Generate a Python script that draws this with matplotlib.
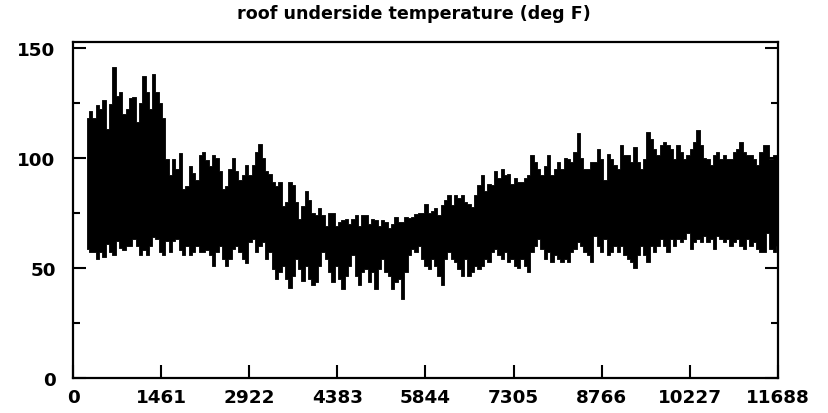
import numpy as np
import matplotlib
matplotlib.use("Agg")
import matplotlib.pyplot as plt
from matplotlib.ticker import MultipleLocator, FixedLocator

# ---- data: upper / lower envelope of the hourly roof-underside temperature ----
high_seg1 = [118, 121, 118, 124, 122, 126, 113, 124.5, 141, 128, 130, 120, 122, 127, 127.5, 116, 125,
             137, 130, 122, 138, 130, 125, 118, 99.5, 92, 99.5, 95, 102, 86, 87, 96, 93, 90]
low_seg1 = [58.6, 57, 57, 54, 57, 55, 61, 57, 56, 62, 59, 58, 60, 60, 63, 60, 56, 58, 56, 60, 64, 63,
            57, 56, 62, 57, 62, 63, 58, 56, 60, 56, 57, 60]
high_seg2 = [101, 102.5, 99, 96, 101, 100, 94, 86, 87, 95, 100, 94, 90, 92, 96.5, 92, 96.5, 102.5, 106,
             100, 94, 92.5, 89, 87, 89, 78, 80, 89, 87.6, 80, 72, 78, 85, 81, 75]
low_seg2 = [57, 57, 58, 56, 51, 57, 60, 54, 51, 54, 58.6, 60, 57, 54, 52, 61.5, 63, 57, 60, 61.5, 54, 57,
            49.5, 45, 48, 51, 45, 41, 46.5, 54, 49.5, 44, 51, 45, 42]
high_seg3 = [74, 77, 74, 69, 75, 75, 69, 71, 71.5, 72, 70, 72, 74, 69, 74, 74, 70, 72, 71.5, 69, 71.5, 71,
             68, 70, 73, 71, 71, 73, 72.5, 73, 74.5, 75, 75, 79, 75]
low_seg3 = [43.5, 51, 57, 54, 48, 43.5, 51, 45, 40.5, 46.5, 51, 55.6, 46.5, 42, 48, 49.5, 43.5, 48, 40.5,
            49.5, 54, 48, 46.5, 40.5, 43.5, 45, 36, 48, 55.6, 58.6, 57, 60, 54, 51, 49.5]
high_seg4 = [76, 77, 74, 78.5, 81, 83, 78.5, 83, 81.6, 83, 80, 79, 77.5, 83, 87.6, 92, 85, 88, 87.6, 93.9,
             90.9, 95, 92, 92.5, 88, 91, 89, 89, 90.9, 92, 101, 98, 95, 92, 96]
low_seg4 = [54, 51, 46.5, 42, 54, 57, 54, 52.6, 49.5, 46.5, 54, 46.5, 48, 51, 49.5, 51, 54, 52.6, 57, 58.6,
            55.6, 54, 57, 52.6, 54, 51, 50, 54, 51, 48, 57, 60, 63, 58.6, 54]
high_seg5 = [101, 92, 95, 98, 95, 100, 99.5, 98, 102.5, 111, 100, 95, 95, 98, 98, 104, 99.5, 90, 101.7,
             99.5, 96.5, 95, 105.6, 101, 101, 98, 104.8, 98, 95, 99.5, 111.7, 108.6, 104, 101, 105.6]
low_seg5 = [57, 52.6, 55.6, 54, 52.6, 54, 52.6, 57, 58.6, 61.6, 60, 57, 55.6, 52.6, 64.6, 60, 57, 63, 55.6,
            57, 60, 57, 60, 55.6, 54, 52.6, 50, 55.6, 60, 55.6, 52.6, 60, 57, 60, 63]
high_seg6 = [107, 105.6, 104, 99.5, 105.6, 102.5, 99.5, 101, 104, 107, 112.4, 105.6, 100, 99.5, 96.5, 101,
             102.5, 99.5, 101, 99.5, 99.5, 102.5, 104, 107, 102.5, 101, 101, 99.5, 96.5, 102.5, 105.6,
             105.6, 99.5, 101, 101]
low_seg6 = [60, 57, 63, 60, 63, 61.6, 63, 66, 58.6, 61.6, 63, 61.6, 64.6, 61.6, 63, 58.6, 64.6, 63, 61.6,
            63, 60, 61.6, 63, 60, 58.6, 63, 60, 61.6, 58.6, 57, 57, 66, 58.6, 57, 60]

high = high_seg1 + high_seg2 + high_seg3 + high_seg4 + high_seg5 + high_seg6
low = low_seg1 + low_seg2 + low_seg3 + low_seg4 + low_seg5 + low_seg6
first_hour, last_hour = 240, 11680
hours = np.linspace(first_hour, last_hour, len(high))

x_ticks = [0, 1461, 2922, 4383, 5844, 7305, 8766, 10227, 11688]
y_ticks = [0, 50, 100, 150]
title = "roof underside temperature (deg F)"

# ---- figure ----
plt.rcParams['font.family'] = ['DejaVu Sans']
plt.rcParams['font.weight'] = 'bold'

fig = plt.figure(figsize=(8.29, 4.14), dpi=100)
ax = fig.add_axes([73 / 829, 1 - 379 / 414, 705 / 829, 336 / 414])

ax.fill_between(hours, low, high, step='mid', color='black', lw=0.6)

ax.set_xlim(0, 11688)
ax.set_ylim(0, 152.5)
ax.xaxis.set_major_locator(FixedLocator(x_ticks))
ax.set_xticklabels([str(t) for t in x_ticks])
ax.yaxis.set_major_locator(FixedLocator(y_ticks))
ax.yaxis.set_minor_locator(MultipleLocator(25))

for s in ax.spines.values():
    s.set_linewidth(1.6)

ax.tick_params(axis='x', which='major', direction='in', length=9.5, width=1.5, pad=7,
               labelsize=13.2, top=False)
ax.tick_params(axis='y', which='major', direction='in', length=9.5, width=1.5, pad=12.5,
               labelsize=13.2, right=True)
ax.tick_params(axis='y', which='minor', direction='in', length=5, width=1.5, right=True)
for lbl in ax.get_xticklabels() + ax.get_yticklabels():
    lbl.set_fontweight('bold')

fig.text(414 / 829, 1 - 14 / 414, title, ha='center', va='center', fontsize=12.6, fontweight='bold')

fig.savefig("out.png", dpi=100)
